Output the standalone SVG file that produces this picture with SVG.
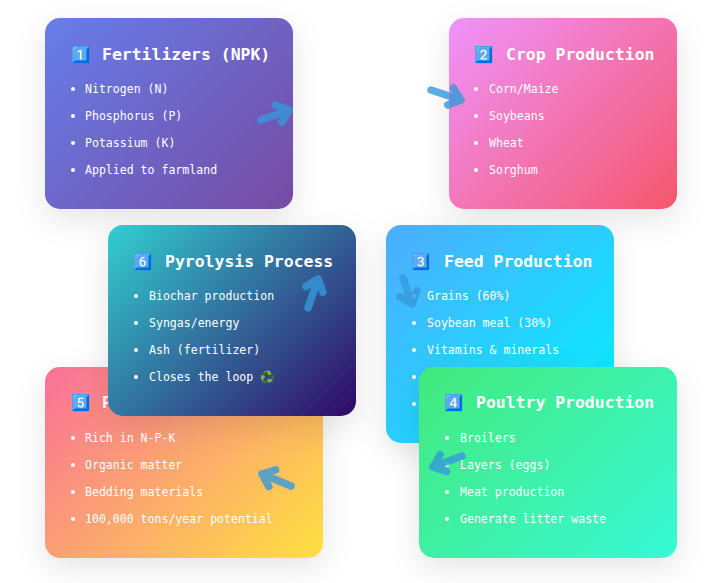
<svg xmlns="http://www.w3.org/2000/svg" width="721" height="583" viewBox="0 0 721 583">
<style>
.t{font:bold 16.45px "DejaVu Sans Mono","Liberation Mono",monospace;fill:#fff}
.l{font:11.55px "DejaVu Sans Mono","Liberation Mono",monospace;fill:#fff}
.e{font:15.500px "Noto Color Emoji","DejaVu Sans",sans-serif;filter:url(#k)}
.b{fill:#fff}
.c{filter:url(#s)}
.a{fill:none;stroke:#3498db;stroke-width:7.500;stroke-linecap:round;stroke-linejoin:round;opacity:.8}
</style>
<defs>
<filter id="s" x="-30%" y="-30%" width="160%" height="170%"><feDropShadow dx="0" dy="10" stdDeviation="15" flood-color="#000" flood-opacity=".1"/></filter>
<filter id="k" color-interpolation-filters="sRGB"><feColorMatrix type="matrix" values="1.410 0 0 0 -.41 0 1.070 0 0 -.07 0 0 .230 0 .77 0 0 0 1 0"/></filter>
<linearGradient id="g1" gradientUnits="userSpaceOnUse" x1="59.25" y1="3.75" x2="278.75" y2="223.25"><stop offset="0" stop-color="#667eea"/><stop offset="1" stop-color="#764ba2"/></linearGradient>
<linearGradient id="g2" gradientUnits="userSpaceOnUse" x1="458.25" y1="8.75" x2="667.75" y2="218.25"><stop offset="0" stop-color="#f093fb"/><stop offset="1" stop-color="#f5576c"/></linearGradient>
<linearGradient id="g3" gradientUnits="userSpaceOnUse" x1="388.5" y1="222.5" x2="611.5" y2="445.5"><stop offset="0" stop-color="#4facfe"/><stop offset="1" stop-color="#00f2fe"/></linearGradient>
<linearGradient id="g4" gradientUnits="userSpaceOnUse" x1="435.75" y1="350.25" x2="660.25" y2="574.75"><stop offset="0" stop-color="#43e97b"/><stop offset="1" stop-color="#38f9d7"/></linearGradient>
<linearGradient id="g5" gradientUnits="userSpaceOnUse" x1="66.75" y1="345.25" x2="301.25" y2="579.75"><stop offset="0" stop-color="#fa709a"/><stop offset="1" stop-color="#fee140"/></linearGradient>
<linearGradient id="g6" gradientUnits="userSpaceOnUse" x1="122.25" y1="210.75" x2="341.75" y2="430.25"><stop offset="0" stop-color="#30cfd0"/><stop offset="1" stop-color="#330867"/></linearGradient>
</defs>
<rect width="721" height="583" fill="#fff"/>
<g id="node-1">
<rect class="c" x="45" y="18" width="248" height="191" rx="15" fill="url(#g1)"/>
<text class="e" x="71.500" y="60">1️⃣</text>
<text class="t" x="102" y="60">Fertilizers (NPK)</text>
<circle class="b" cx="73" cy="89" r="2"/><text class="l" x="85" y="92.500">Nitrogen (N)</text>
<circle class="b" cx="73" cy="116" r="2"/><text class="l" x="85" y="119.500">Phosphorus (P)</text>
<circle class="b" cx="73" cy="143" r="2"/><text class="l" x="85" y="146.500">Potassium (K)</text>
<circle class="b" cx="73" cy="170" r="2"/><text class="l" x="85" y="173.500">Applied to farmland</text>
</g>
<g id="node-2">
<rect class="c" x="449" y="18" width="228" height="191" rx="15" fill="url(#g2)"/>
<text class="e" x="474.500" y="60">2️⃣</text>
<text class="t" x="506" y="60">Crop Production</text>
<circle class="b" cx="476" cy="89" r="2"/><text class="l" x="489" y="92.500">Corn/Maize</text>
<circle class="b" cx="476" cy="116" r="2"/><text class="l" x="489" y="119.500">Soybeans</text>
<circle class="b" cx="476" cy="143" r="2"/><text class="l" x="489" y="146.500">Wheat</text>
<circle class="b" cx="476" cy="170" r="2"/><text class="l" x="489" y="173.500">Sorghum</text>
</g>
<g id="node-3">
<rect class="c" x="386" y="225" width="228" height="218" rx="15" fill="url(#g3)"/>
<text class="e" x="411.500" y="267">3️⃣</text>
<text class="t" x="444" y="267">Feed Production</text>
<circle class="b" cx="414" cy="296" r="2"/><text class="l" x="427" y="299.500">Grains (60%)</text>
<circle class="b" cx="414" cy="323" r="2"/><text class="l" x="427" y="326.500">Soybean meal (30%)</text>
<circle class="b" cx="414" cy="350" r="2"/><text class="l" x="427" y="353.500">Vitamins &amp; minerals</text>
<circle class="b" cx="414" cy="377" r="2"/>
<circle class="b" cx="414" cy="404" r="2"/>
</g>
<g id="node-5">
<rect class="c" x="45" y="367" width="278" height="191" rx="15" fill="url(#g5)"/>
<text class="e" x="71" y="408">5️⃣</text>
<text class="t" x="102" y="408">P</text>
<circle class="b" cx="73" cy="438" r="2"/><text class="l" x="85" y="441.500">Rich in N-P-K</text>
<circle class="b" cx="73" cy="465" r="2"/><text class="l" x="85" y="468.500">Organic matter</text>
<circle class="b" cx="73" cy="492" r="2"/><text class="l" x="85" y="495.500">Bedding materials</text>
<circle class="b" cx="73" cy="519" r="2"/><text class="l" x="85" y="522.500">100,000 tons/year potential</text>
</g>
<g id="node-6">
<rect class="c" x="108" y="225" width="248" height="191" rx="15" fill="url(#g6)"/>
<text class="e" x="133.500" y="267">6️⃣</text>
<text class="t" x="165" y="267">Pyrolysis Process</text>
<circle class="b" cx="136" cy="296" r="2"/><text class="l" x="149" y="299.500">Biochar production</text>
<circle class="b" cx="136" cy="323" r="2"/><text class="l" x="149" y="326.500">Syngas/energy</text>
<circle class="b" cx="136" cy="350" r="2"/><text class="l" x="149" y="353.500">Ash (fertilizer)</text>
<circle class="b" cx="136" cy="377" r="2"/><text class="l" x="149" y="380.500">Closes the loop <tspan font-family="Noto Color Emoji,DejaVu Sans,sans-serif">♻️</tspan></text>
</g>
<g id="node-4">
<rect class="c" x="419" y="367" width="258" height="191" rx="15" fill="url(#g4)"/>
<text class="e" x="444.500" y="408">4️⃣</text>
<text class="t" x="476" y="408">Poultry Production</text>
<circle class="b" cx="447" cy="438" r="2"/><text class="l" x="460" y="441.500">Broilers</text>
<circle class="b" cx="447" cy="465" r="2"/><text class="l" x="460" y="468.500">Layers (eggs)</text>
<circle class="b" cx="447" cy="492" r="2"/><text class="l" x="460" y="495.500">Meat production</text>
<circle class="b" cx="447" cy="519" r="2"/><text class="l" x="460" y="522.500">Generate litter waste</text>
</g>
<g id="connectors">
<path class="a" d="M261 120L289 110M275.600 105.200L289 110L281.600 122.200"/>
<path class="a" d="M431 90L461 100M453.400 88L461 100L447.800 105"/>
<path class="a" d="M403 278L412 304M399.900 296.700L412 304L416.900 290.700"/>
<path class="a" d="M462 456L433 467M440.100 454.700L433 467L446.500 471.500"/>
<path class="a" d="M291 486L262 474M275.600 469.900L262 474L268.800 486.500"/>
<path class="a" d="M308 308L318 279M305.900 286.500L318 279L322.900 292.300"/>
</g>
</svg>
